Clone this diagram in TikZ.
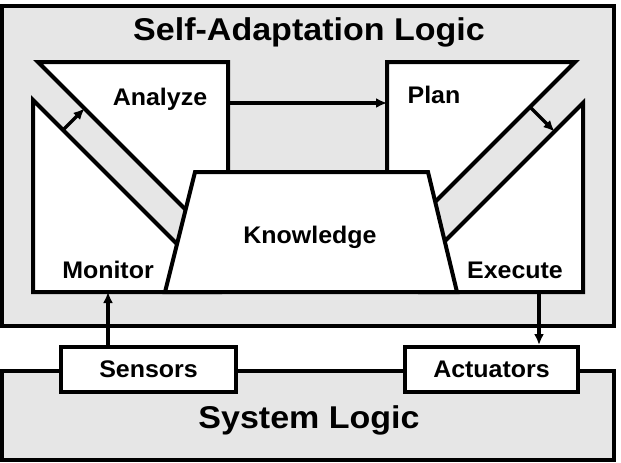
\documentclass[tikz,border=0pt]{standalone}
\usepackage{fontspec}
\setmainfont{Liberation Sans}
\newfontfamily\titlefont[FakeStretch=1.08]{Liberation Sans}
\newfontfamily\labelfont[FakeStretch=1.04]{Liberation Sans}
\usetikzlibrary{arrows.meta}
\definecolor{bggray}{HTML}{E6E6E6}
\tikzset{
  frame/.style={draw=black, line width=4pt, line join=miter},
  whitebox/.style={frame, fill=white},
  graybox/.style={frame, fill=bggray},
  lbl/.style={font=\labelfont\bfseries\fontsize{24}{28}\selectfont, inner sep=0pt},
  ttl/.style={font=\titlefont\bfseries\fontsize{31.5}{36}\selectfont, inner sep=0pt, anchor=base},
  arr/.style={line width=3.5pt, -{Latex[length=11pt,width=10pt]}}
}
\begin{document}
\begin{tikzpicture}[x=1pt,y=-1pt]
\useasboundingbox (0,0) rectangle (621,463);
% outer containers
\draw[graybox] (2,6) rectangle (614,326);
\draw[graybox] (2,371) rectangle (614,460);
\node[ttl] (saltitle) at (309,40) {Self-Adaptation Logic};
\node[ttl] (systitle) at (309,428) {System Logic};
% sensors / actuators
\node[whitebox, lbl, minimum width=175pt, minimum height=45pt] (sensors) at (148.5,369.5) {Sensors};
\node[whitebox, lbl, minimum width=173pt, minimum height=45pt] (actuators) at (491.5,369.5) {Actuators};
% MAPE shapes
\draw[whitebox] (33,100) -- (220,287) -- (220,292) -- (33,292) -- cycle;
\draw[whitebox] (38,62) -- (228,62) -- (228,230) -- (206,230) -- cycle;
\draw[whitebox] (387,62) -- (575,62) -- (410,227) -- (387,227) -- cycle;
\draw[whitebox] (583,103) -- (583,292) -- (420,292) -- (420,266) -- cycle;
\draw[whitebox] (195,172) -- (428,172) -- (457,292) -- (165,292) -- cycle;
% labels
\node[lbl, anchor=base] (monitor) at (108,278) {Monitor};
\node[lbl, anchor=base] (analyze) at (160,105) {Analyze};
\node[lbl, anchor=base] (plan) at (434,103) {Plan};
\node[lbl, anchor=base] (execute) at (515,278) {Execute};
\node[lbl, anchor=base] (knowledge) at (310,243) {Knowledge};
% connector end points
\coordinate (monB) at (108,292);
\coordinate (exeB) at (539,292);
\coordinate (anaR) at (228,103);
\coordinate (planL) at (387,103);
\coordinate (monD) at (63,130);
\coordinate (anaD) at (84.5,108.5);
\coordinate (planD) at (530,107);
\coordinate (exeD) at (554.5,131.5);
% connectors
\draw[arr] (sensors.north -| monB) -- (monB);
\draw[arr] (exeB) -- (actuators.north -| exeB);
\draw[arr] (anaR) -- (planL);
\draw[arr] (monD) -- (anaD);
\draw[arr] (planD) -- (exeD);
\end{tikzpicture}
\end{document}
